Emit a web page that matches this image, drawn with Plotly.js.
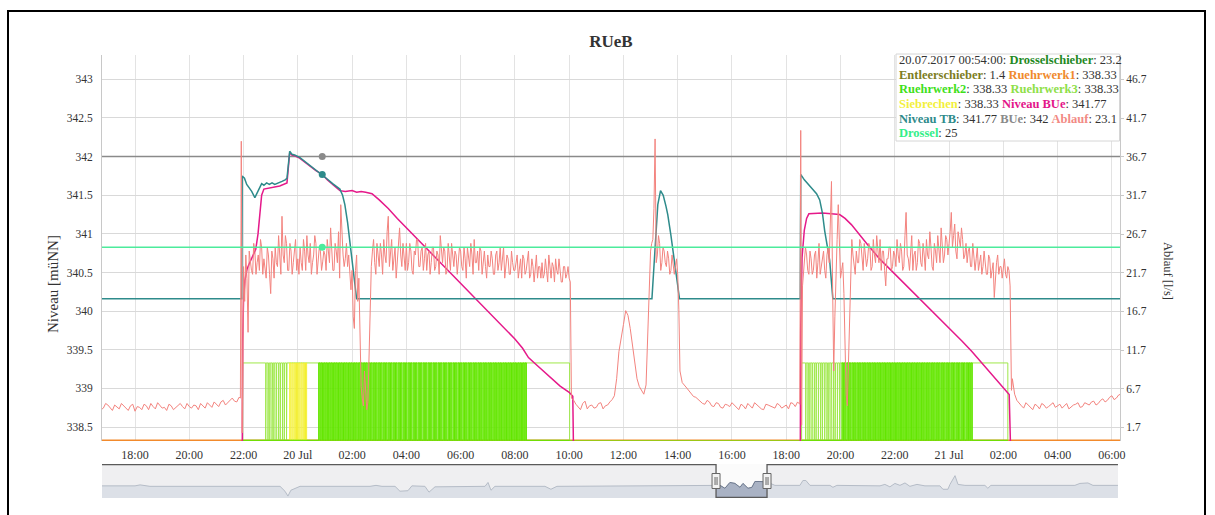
<!DOCTYPE html>
<html><head><meta charset="utf-8">
<script src="https://cdn.plot.ly/plotly-3.0.1.min.js"></script>
<style>
html,body{margin:0;padding:0;background:#fff;overflow:hidden;width:1215px;height:515px}
#chart{position:absolute;left:0;top:0;width:1215px;height:515px}
#frame{position:absolute;left:7px;top:10px;width:1199px;height:540px;border:2px solid #000;box-sizing:border-box;pointer-events:none}
</style></head><body><div id="chart"></div><div id="frame"></div>
<script>
// ---------- DATA ----------
const xRange = ['2017-07-19 16:47', '2017-07-21 06:18'];
const xTickVals = ['2017-07-19 18:00','2017-07-19 20:00','2017-07-19 22:00','2017-07-20 00:00','2017-07-20 02:00','2017-07-20 04:00','2017-07-20 06:00','2017-07-20 08:00','2017-07-20 10:00','2017-07-20 12:00','2017-07-20 14:00','2017-07-20 16:00','2017-07-20 18:00','2017-07-20 20:00','2017-07-20 22:00','2017-07-21 00:00','2017-07-21 02:00','2017-07-21 04:00','2017-07-21 06:00'];
const xTickText = ['18:00','20:00','22:00','20 Jul','02:00','04:00','06:00','08:00','10:00','12:00','14:00','16:00','18:00','20:00','22:00','21 Jul','02:00','04:00','06:00'];
const yLeftTicks = [338.5, 339, 339.5, 340, 340.5, 341, 341.5, 342, 342.5, 343];
const yRightTicks = [1.7, 6.7, 11.7, 16.7, 21.7, 26.7, 31.7, 36.7, 41.7, 46.7];

// Niveau TB [müNN]
const tbTimes = ['2017-07-19 16:40','2017-07-19 21:56','2017-07-19 21:57','2017-07-19 22:02','2017-07-19 22:07','2017-07-19 22:12','2017-07-19 22:18','2017-07-19 22:25','2017-07-19 22:29','2017-07-19 22:32','2017-07-19 22:36','2017-07-19 22:40','2017-07-19 22:45','2017-07-19 22:51','2017-07-19 22:57','2017-07-19 23:03','2017-07-19 23:09','2017-07-19 23:14','2017-07-19 23:20','2017-07-19 23:25','2017-07-19 23:32','2017-07-19 23:36','2017-07-19 23:40','2017-07-19 23:42','2017-07-19 23:47','2017-07-19 23:53','2017-07-20 00:04','2017-07-20 00:15','2017-07-20 00:27','2017-07-20 00:40','2017-07-20 00:54','2017-07-20 01:05','2017-07-20 01:17','2017-07-20 01:25','2017-07-20 01:33','2017-07-20 01:39','2017-07-20 01:44','2017-07-20 01:50','2017-07-20 01:55','2017-07-20 02:00','2017-07-20 02:04','2017-07-20 02:10','2017-07-20 13:03','2017-07-20 13:07','2017-07-20 13:12','2017-07-20 13:16','2017-07-20 13:22','2017-07-20 13:28','2017-07-20 13:34','2017-07-20 13:38','2017-07-20 13:45','2017-07-20 13:53','2017-07-20 13:58','2017-07-20 14:04','2017-07-20 18:31','2017-07-20 18:32','2017-07-20 18:40','2017-07-20 18:50','2017-07-20 18:59','2017-07-20 19:07','2017-07-20 19:14','2017-07-20 19:20','2017-07-20 19:25','2017-07-20 19:30','2017-07-20 19:36','2017-07-20 19:43','2017-07-21 06:20'];
const tbValues = [340.16,340.16,341.75,341.72,341.64,341.60,341.55,341.47,341.52,341.57,341.62,341.65,341.63,341.66,341.64,341.66,341.64,341.65,341.67,341.68,341.70,341.72,341.95,342.07,342.03,342.02,341.99,341.94,341.89,341.83,341.77,341.71,341.65,341.62,341.58,341.50,341.38,341.15,340.92,340.65,340.45,340.16,340.16,340.55,341.05,341.38,341.56,341.50,341.36,341.25,340.98,340.62,340.40,340.16,340.16,341.77,341.70,341.63,341.57,341.52,341.44,341.27,341.04,340.85,340.66,340.16,340.16];

// Niveau BUe [müNN]
const buTimes = ['2017-07-19 16:40','2017-07-19 21:57','2017-07-19 21:58','2017-07-19 22:00','2017-07-19 22:03','2017-07-19 22:08','2017-07-19 22:13','2017-07-19 22:20','2017-07-19 22:27','2017-07-19 22:32','2017-07-19 22:36','2017-07-19 22:40','2017-07-19 22:45','2017-07-19 23:00','2017-07-19 23:20','2017-07-19 23:36','2017-07-19 23:40','2017-07-19 23:42','2017-07-19 23:47','2017-07-19 23:53','2017-07-20 00:04','2017-07-20 00:15','2017-07-20 00:27','2017-07-20 00:40','2017-07-20 00:54','2017-07-20 01:05','2017-07-20 01:17','2017-07-20 01:25','2017-07-20 01:33','2017-07-20 01:45','2017-07-20 02:00','2017-07-20 02:10','2017-07-20 02:20','2017-07-20 02:30','2017-07-20 02:44','2017-07-20 03:00','2017-07-20 03:20','2017-07-20 03:40','2017-07-20 04:00','2017-07-20 04:20','2017-07-20 04:40','2017-07-20 05:00','2017-07-20 05:20','2017-07-20 05:40','2017-07-20 06:00','2017-07-20 06:20','2017-07-20 06:40','2017-07-20 07:00','2017-07-20 07:20','2017-07-20 07:40','2017-07-20 08:00','2017-07-20 08:17','2017-07-20 08:30','2017-07-20 08:45','2017-07-20 09:00','2017-07-20 09:20','2017-07-20 09:40','2017-07-20 10:00','2017-07-20 10:08','2017-07-20 10:10','2017-07-20 18:31','2017-07-20 18:32','2017-07-20 18:35','2017-07-20 18:40','2017-07-20 18:45','2017-07-20 18:50','2017-07-20 19:20','2017-07-20 19:58','2017-07-20 20:10','2017-07-20 20:24','2017-07-20 20:40','2017-07-20 21:00','2017-07-20 21:26','2017-07-20 21:50','2017-07-20 22:20','2017-07-20 22:40','2017-07-20 23:01','2017-07-20 23:20','2017-07-20 23:40','2017-07-21 00:00','2017-07-21 00:29','2017-07-21 00:50','2017-07-21 01:05','2017-07-21 01:22','2017-07-21 01:40','2017-07-21 02:00','2017-07-21 02:13','2017-07-21 02:17','2017-07-21 06:20'];
const buValues = [338.0,338.0,339.6,340.15,340.40,340.55,340.62,340.70,340.80,341.00,341.30,341.50,341.58,341.60,341.62,341.66,341.95,342.05,342.02,342.01,341.98,341.93,341.88,341.82,341.77,341.70,341.64,341.60,341.56,341.55,341.56,341.54,341.55,341.54,341.52,341.44,341.33,341.20,341.08,340.97,340.84,340.72,340.60,340.49,340.36,340.25,340.12,340.01,339.89,339.77,339.64,339.52,339.40,339.32,339.24,339.13,339.03,338.95,338.90,338.0,338.0,339.8,340.7,341.05,341.20,341.26,341.27,341.25,341.20,341.12,341.00,340.86,340.68,340.54,340.37,340.25,340.13,340.02,339.90,339.78,339.61,339.48,339.38,339.27,339.15,339.01,338.92,338.0,338.0];

// constant lines
const lineTimes = ['2017-07-19 16:40', '2017-07-21 06:20'];
const bueLevel = [342, 342];
const drosselLevel = [25, 25];
const rw1Level = [338.33, 338.33];

// Ablauf [l/s] segments (start, step in minutes, values); "B" arrays are the in-between samples
const ablaufEveningStart = '2017-07-19 16:40';
const ablaufEvening = [4.5,4.2,4.6,3.9,4.4,4.8,4.1,4.5,3.8,4.3,4.7,4.0,4.4,4.9,4.2,3.9,4.5,4.3,4.8,4.1,4.4,4.6,4.0,4.5,4.9,4.3,4.7,5.0,4.6,5.3,5.1,5.6];
const ablaufEveningBStart = '2017-07-19 16:45';
const ablaufEveningB = [4.0,4.8,4.3,4.6,4.1,4.5,3.9,4.7,4.4,4.0,4.5,4.8,4.1,4.6,4.3,4.7,4.0,4.6,4.4,4.8,4.2,4.5,4.8,4.2,4.6,5.0,4.4,5.2,4.9,5.5,5.0];
const ablaufNightStart = '2017-07-19 22:00';
const ablaufNight = [
22.5,24.0,14.0,23.0,21.5,24.5,23.0,22.0,25.0,23.5,21.0,24.0,
19.0,23.5,25.0,22.5,24.0,29.0,23.0,25.5,22.0,24.5,23.0,26.0,
23.5,25.0,22.0,24.5,26.5,23.0,21.5,24.0,25.5,23.0,24.5,23.1,
24.0,26.0,23.0,25.0,22.0,24.5,27.0,30.5,24.0,23.5,22.5,21.0,
22.0,14.5,24.0,21.0,7.0,4.5,6.0,5.0,19.0,24.5,23.0,25.5,
22.5,24.0,26.0,23.0,29.0,24.5,22.0,25.0,23.5,27.5,22.5,24.0,
25.5,23.0,24.5,21.5,24.0,26.0,22.5,25.0,23.5,22.0,24.5,23.0,
25.0,22.5,24.0,26.5,23.0,24.5,22.0,23.5,25.5,22.5,24.0,23.0,
24.5,22.0,23.5,25.0,22.5,24.0,26.0,23.0,22.0,24.5,23.0,22.5,
24.0,22.5,23.5,21.5,24.5,23.0,22.0,25.0,22.5,23.5,21.5,23.0,
22.0,24.0,22.5,21.0,23.5,22.0,24.5,21.5,22.5,23.0,21.0,22.5,
23.0,21.5,22.0,24.0,21.0,22.5,23.5,21.5,22.0,20.5,22.5,21.5,
21.0,5.5];
const ablaufNightBStart = '2017-07-19 22:02:30';
const ablaufNightB = [
18.0,21.0,24.5,22.0,25.5,21.5,24.0,26.0,21.5,22.5,25.0,21.5,
24.5,21.0,23.0,26.5,21.5,24.0,26.5,22.0,25.5,21.5,24.5,22.0,
21.5,23.0,26.0,22.0,24.0,25.5,23.0,26.5,21.5,25.0,22.0,24.5,
22.0,24.0,27.5,22.0,25.5,23.0,21.0,26.0,22.5,25.5,24.0,19.5,
16.0,22.0,18.0,12.0,5.5,9.0,4.0,12.0,22.5,26.0,21.5,23.5,
25.5,21.5,24.0,27.0,22.5,26.0,23.5,21.0,26.0,24.0,25.5,22.0,
22.0,25.5,22.0,24.5,26.0,22.5,24.5,22.0,25.5,24.0,21.5,25.0,
22.0,24.5,21.5,24.0,25.0,21.5,25.5,22.0,23.5,24.5,21.5,25.0,
22.5,25.0,21.0,23.5,25.5,21.5,23.0,24.5,25.0,21.5,24.5,21.0,
22.5,24.5,21.5,24.0,22.0,25.0,23.5,21.0,24.0,21.5,24.5,22.0,
23.5,21.0,23.5,24.0,21.5,23.5,21.0,23.5,20.5,24.0,22.5,21.0,
21.0,23.5,20.5,22.5,23.0,20.5,22.0,23.5,20.5,22.5,21.0,22.5,
20.5];
const ablaufMiddayStart = '2017-07-20 10:10';
const ablaufMidday = [5.2,4.4,4.8,4.1,4.6,4.3,4.9,4.5,5.0,5.8,11.5,15.0,16.2,12.5,8.0,6.5,7.2];
const ablaufMiddayBStart = '2017-07-20 10:15';
const ablaufMiddayB = [4.7,4.0,5.1,4.5,4.2,4.8,4.1,4.6,5.3,8.0,13.5,16.8,14.5,10.5,7.0,6.0];
const ablaufPeakStart = '2017-07-20 12:55';
const ablaufPeak = [15.0,24.5,26.0,39.0,24.0,25.5,23.0,24.5,22.5,23.5,22.0,23.0,22.5,21.5,9.0,7.5];
const ablaufPeakBStart = '2017-07-20 12:57:30';
const ablaufPeakB = [20.0,25.5,30.0,23.0,26.5,22.0,25.0,23.0,24.5,21.5,24.0,21.5,23.5,17.0,8.0];
const ablaufAfternoonStart = '2017-07-20 14:20';
const ablaufAfternoon = [6.8,6.0,5.6,5.1,4.7,5.0,4.4,4.8,4.2,4.6,4.9,4.3,4.7,4.1,4.5,4.9,4.4,4.0,4.6,4.3,4.8,4.2,4.6,4.9,4.4,4.7];
const ablaufAfternoonBStart = '2017-07-20 14:25';
const ablaufAfternoonB = [6.4,5.7,5.3,4.8,5.2,4.5,4.9,4.3,4.7,4.4,4.6,4.0,4.5,4.8,4.2,4.6,4.1,4.7,4.5,4.2,4.6,4.4,4.1,4.8,5.0];
const ablaufEvening2Start = '2017-07-20 18:40';
const ablaufEvening2 = [
22.5,24.0,21.5,23.5,
22.0,24.5,23.0,21.5,23.5,22.0,24.0,23.0,33.5,9.0,22.5,30.5,
21.0,23.0,12.0,4.5,18.0,26.0,22.5,24.5,23.0,25.5,22.0,24.0,
23.5,25.0,22.5,24.0,26.5,23.0,22.0,24.5,20.0,23.5,25.0,22.5,
24.0,26.0,23.0,24.5,22.5,29.5,23.5,25.0,22.0,24.5,23.0,25.5,
22.5,24.0,26.0,23.5,25.0,22.0,24.5,26.5,23.0,25.5,24.0,26.0,
25.5,29.5,26.5,24.5,27.0,25.0,26.0,24.0,23.0,25.0,22.5,24.0,
23.5,22.0,24.0,22.5,23.0,21.5,23.5,22.0,18.5,23.0,21.5,22.5,
22.0,21.5,22.5,20.0];
const ablaufEvening2BStart = '2017-07-20 18:42:30';
const ablaufEvening2B = [
25.0,22.0,24.5,21.5,
24.0,21.0,25.5,22.5,24.5,21.0,25.0,27.0,20.0,16.0,26.0,23.5,
22.0,19.0,6.0,10.0,23.0,24.0,21.5,23.0,26.0,23.5,25.5,22.5,
25.5,22.0,26.0,23.0,24.0,26.0,24.5,22.0,23.5,25.0,22.0,24.5,
22.5,24.0,25.5,22.0,26.5,24.0,22.0,26.5,24.0,22.0,26.0,23.0,
25.5,22.0,24.0,27.0,22.5,25.5,23.0,24.5,27.5,23.0,26.5,24.0,
27.0,25.0,28.0,23.5,25.5,27.5,23.5,25.5,24.5,22.5,25.5,22.0,
25.0,23.5,21.5,24.5,21.5,24.0,21.0,23.0,21.0,24.0,22.5,21.0,
23.5,21.0,22.0];
const ablaufNight2Start = '2017-07-21 02:20';
const ablaufNight2 = [8.0,5.2,4.5,4.9,4.3,4.7,4.1,4.6,4.4,4.9,4.5,4.2,4.8,4.4,4.7,4.3,4.9,4.6,5.1,4.8,5.4,5.2,5.8,5.5,6.0];
const ablaufNight2BStart = '2017-07-21 02:25';
const ablaufNight2B = [6.0,4.8,4.2,4.6,4.0,4.5,4.8,4.2,4.6,4.3,4.7,4.5,4.1,4.6,4.9,4.4,4.7,5.0,4.6,5.2,5.0,5.6,5.3,5.9];
const ablaufSpikeTimes = ['2017-07-19 21:53','2017-07-19 21:55','2017-07-19 21:57','2017-07-19 21:59','2017-07-20 18:32','2017-07-20 18:34','2017-07-20 18:36','2017-07-21 02:18'];
const ablaufSpikeValues = [5.5,38.7,1.0,14.0,40.1,2.0,20.0,6.5];

// Stirrers / screen: switch times in minutes since 2017-07-19 00:00
const switchBase = '2017-07-19 00:00';
const rwOnLevel = 339.33, rwOffLevel = 338.33;
const rw3OnStart = [1318, 2554];
const rw3OnEnd = [2041, 3010];
const rw3OffBlips = [1369,1374,1378,1383,1387,1392,1397,1401,1406,1410,1415,2563,2568,2572,2577,2582,2586,2591,2596,2600,2605,2610,2614,2619,2624,2628,2633,2638];
const rw3BlipMinutes = 1;
const siebPulses = [1422,1427,1432,1437,1442,1447,1452,1457];
const siebOnMinutes = 2.5;
const rw2Pulses = [1486,1491,1497,1502,1508,1513,1519,1524,1530,1535,1541,1546,1552,1557,1563,1568,1574,1579,1585,1590,1596,1601,1607,1612,1618,1623,1629,1634,1640,1645,1651,1656,1662,1667,1673,1678,1684,1689,1695,1700,1706,1711,1717,1722,1728,1733,1739,1744,1750,1755,1761,1766,1772,1777,1783,1788,1794,1799,1805,1810,1816,1821,1827,1832,1838,1843,1849,1854,1860,1865,1871,1876,1882,1887,1893,1898,1904,1909,1915,1920,1926,1931,1937,1942,
2643,2648,2654,2659,2665,2670,2676,2681,2687,2692,2698,2703,2709,2714,2720,2725,2731,2736,2742,2747,2753,2758,2764,2769,2775,2780,2786,2791,2797,2802,2808,2813,2819,2824,2830,2835,2841,2846,2852,2857,2863,2868,2874,2879,2885,2890,2896,2901,2907,2912,2918,2923,2928];
const rw2OnMinutes = 3.5;

// hover point
const hoverTime = ['2017-07-20 00:54'];
const hoverBUe = [342], hoverTB = [341.77], hoverDrossel = [25];

// navigator (hours since navStart, level)
const navStart = '2017-06-30 21:00', navEnd = '2017-08-01 00:30';
const navHours = [0,24.3,28,31.6,35.3,131,134.6,136.8,139,145.7,197.2,201.6,206,215.6,219.2,225.1,228,237.6,240.6,245,281.8,284,286.2,289.1,325.9,330.3,334.7,395.8,440,451.78,454.7,458.3,462,465.7,469.4,471.6,475.3,478.2,480.4,484.1,489.3,495.1,513.5,515.7,517.9,520.9,535.6,537.8,540.7,572.4,576,579.7,583.4,587.1,590.8,594.4,599.6,605.5,616.5,618.7,622.4,623.9,627.6,629.8,634.9,649.6,651.8,654,715.8,719.5,725.4,729.1,747.5];
const navLevel = [12.5,12.5,13.5,12.5,12,12,7,2,8,12,12,13,12,12,7,7.5,12.5,12,6,11.5,12,16,8,12,12,9,12,12.5,12.5,13,13,10,16,15,11,15,10,11,17,17,16.5,13,13,18,18,13,13,11,13,12.5,14,11.5,15,13,15.5,12,14,12.5,12.5,9,9,14,23,14,13,13,10,13,13,15,15.5,13,13];

// ---------- helpers ----------
function toMs(s){ let t = s.replace(' ','T'); if (t.length === 16) t += ':00'; return Date.parse(t + 'Z'); }
function fmt(ms){ return new Date(ms).toISOString().slice(0,19).replace('T',' '); }
function addMin(s, m){ return fmt(toMs(s) + m*60000); }
function seg(start, step, vals){ return vals.map((v,i)=>({t: addMin(start, i*step), v: v})); }

let ab = [].concat(
  seg(ablaufEveningStart,10,ablaufEvening), seg(ablaufEveningBStart,10,ablaufEveningB),
  seg(ablaufNightStart,5,ablaufNight), seg(ablaufNightBStart,5,ablaufNightB),
  seg(ablaufMiddayStart,10,ablaufMidday), seg(ablaufMiddayBStart,10,ablaufMiddayB),
  seg(ablaufPeakStart,5,ablaufPeak), seg(ablaufPeakBStart,5,ablaufPeakB),
  seg(ablaufAfternoonStart,10,ablaufAfternoon), seg(ablaufAfternoonBStart,10,ablaufAfternoonB),
  seg(ablaufEvening2Start,5,ablaufEvening2), seg(ablaufEvening2BStart,5,ablaufEvening2B),
  seg(ablaufNight2Start,10,ablaufNight2), seg(ablaufNight2BStart,10,ablaufNight2B));
ablaufSpikeTimes.forEach((t,i)=>ab.push({t: addMin(t,0), v: ablaufSpikeValues[i]}));
ab.sort((a,b)=> a.t < b.t ? -1 : (a.t > b.t ? 1 : 0));

function T(m){ return addMin(switchBase, m); }
// Ruehrwerk3: on during events, short off-blips
const rw3x = [], rw3y = [];
for (let k = 0; k < rw3OnStart.length; k++) {
  const s = rw3OnStart[k], e = rw3OnEnd[k];
  rw3x.push(T(s), T(s)); rw3y.push(rwOffLevel, rwOnLevel);
  rw3OffBlips.filter(b => b > s && b < e).forEach(b => {
    rw3x.push(T(b), T(b), T(b+rw3BlipMinutes), T(b+rw3BlipMinutes));
    rw3y.push(rwOnLevel, rwOffLevel, rwOffLevel, rwOnLevel);
  });
  rw3x.push(T(e), T(e), null); rw3y.push(rwOnLevel, rwOffLevel, null);
}
function pulses(windowsS, windowsE, list, dur){
  const x = [], y = [];
  for (let k = 0; k < windowsS.length; k++) {
    const s = windowsS[k], e = windowsE[k];
    x.push(T(s)); y.push(rwOffLevel);
    list.filter(p => p >= s && p < e).forEach(p => {
      x.push(T(p), T(p), T(p+dur), T(p+dur));
      y.push(rwOffLevel, rwOnLevel, rwOnLevel, rwOffLevel);
    });
    x.push(T(e), null); y.push(rwOffLevel, null);
  }
  return {x, y};
}
const rw2 = pulses(rw3OnStart, rw3OnEnd, rw2Pulses, rw2OnMinutes);
const sieb = pulses([siebPulses[0]], [siebPulses[siebPulses.length-1] + siebOnMinutes], siebPulses, siebOnMinutes);

const navX = navHours.map(h => addMin(navStart, h*60));
const winS = (toMs(xRange[0]) - toMs(navStart)) / 3600000;
const winE = (toMs(xRange[1]) - toMs(navStart)) / 3600000;
const inIdx = navHours.map((h,i)=>i).filter(i => navHours[i] >= winS - 0.01 && navHours[i] <= winE + 0.01);

// ---------- traces ----------
const C = {
  rw1:'#f28a2c', rw2:'#62e600', rw3:'#9fe84a', sieb:'#f3ef30', ablauf:'#f3837e',
  drossel:'#4deb9c', bue:'#8a8a8a', nbue:'#e5198a', tb:'#2e8b8b'
};
const traces = [
  {x: lineTimes, y: rw1Level, type:'scatter', mode:'lines', line:{color:C.rw1, width:1.5}, xaxis:'x', yaxis:'y'},
  {x: rw3x, y: rw3y, type:'scatter', mode:'lines', line:{color:C.rw3, width:1}, xaxis:'x', yaxis:'y', connectgaps:false},
  {x: sieb.x, y: sieb.y, type:'scatter', mode:'lines', fill:'tozeroy', fillcolor:'rgba(255,255,140,0.55)', line:{color:C.sieb, width:1}, xaxis:'x', yaxis:'y', connectgaps:false},
  {x: rw2.x, y: rw2.y, type:'scatter', mode:'lines', fill:'tozeroy', fillcolor:'rgba(110,232,10,0.85)', line:{color:C.rw2, width:1}, xaxis:'x', yaxis:'y', connectgaps:false},
  {x: lineTimes, y: bueLevel, type:'scatter', mode:'lines', line:{color:C.bue, width:1.5}, xaxis:'x', yaxis:'y'},
  {x: buTimes, y: buValues, type:'scatter', mode:'lines', line:{color:C.nbue, width:1.5}, xaxis:'x', yaxis:'y'},
  {x: tbTimes, y: tbValues, type:'scatter', mode:'lines', line:{color:C.tb, width:1.5}, xaxis:'x', yaxis:'y'},
  {x: hoverTime, y: hoverBUe, type:'scatter', mode:'markers', marker:{color:C.bue, size:7}, xaxis:'x', yaxis:'y'},
  {x: hoverTime, y: hoverTB, type:'scatter', mode:'markers', marker:{color:C.tb, size:7}, xaxis:'x', yaxis:'y'},
  {x: ab.map(p=>p.t), y: ab.map(p=>p.v), type:'scatter', mode:'lines', line:{color:C.ablauf, width:1}, xaxis:'x', yaxis:'y2'},
  {x: lineTimes, y: drosselLevel, type:'scatter', mode:'lines', line:{color:C.drossel, width:1.3}, xaxis:'x', yaxis:'y2'},
  {x: hoverTime, y: hoverDrossel, type:'scatter', mode:'markers', marker:{color:C.drossel, size:7}, xaxis:'x', yaxis:'y2'},
  // navigator
  {x: navX, y: navLevel, type:'scatter', mode:'lines', fill:'tozeroy', fillcolor:'#dce0e7', line:{color:'#b5bcc7', width:1}, xaxis:'x2', yaxis:'y3'},
  {x: inIdx.map(i=>navX[i]), y: inIdx.map(i=>navLevel[i]), type:'scatter', mode:'lines', fill:'tozeroy', fillcolor:'#a9b2c4', line:{color:'#6e7a8f', width:1}, xaxis:'x2', yaxis:'y3'},
  {x: [navStart, xRange[0], xRange[0], xRange[1], xRange[1], navEnd], y: [34.5, 34.5, 0.5, 0.5, 34.5, 34.5], type:'scatter', mode:'lines', line:{color:'#5a5a5a', width:1.3}, xaxis:'x2', yaxis:'y3'}
];

// ---------- layout ----------
const serif = 'Liberation Serif, Times New Roman, serif';
const navTop = 34/443;
function tipY(py){ return (498 - py) / 443; }
const tipX = (898 - 102) / 1018;
const tipLines = [
  ['20.07.2017 00:54:00: <b><span style="color:#1f8a1f">Drosselschieber</span></b>: 23.2', 60],
  ['<b><span style="color:#7d7d22">Entleerschieber</span></b>: 1.4 <b><span style="color:#f08a2c">Ruehrwerk1</span></b>: 338.33', 75],
  ['<b><span style="color:#3ee01a">Ruehrwerk2</span></b>: 338.33 <b><span style="color:#8ee048">Ruehrwerk3</span></b>: 338.33', 89.5],
  ['<b><span style="color:#f3f03c">Siebrechen</span></b>: 338.33 <b><span style="color:#e3168a">Niveau BUe</span></b>: 341.77', 104],
  ['<b><span style="color:#2e8b8b">Niveau TB</span></b>: 341.77 <b><span style="color:#8a8a8a">BUe</span></b>: 342 <b><span style="color:#f28a84">Ablauf</span></b>: 23.1', 118.5],
  ['<b><span style="color:#33ee88">Drossel</span></b>: 25', 133]
];
const annotations = tipLines.map(l => ({
  text: l[0], xref:'paper', yref:'paper', x: tipX, y: tipY(l[1]), xanchor:'left', yanchor:'middle',
  showarrow:false, font:{family:serif, size:12.5, color:'#333'}, borderpad:0
}));
annotations.push({text:'Niveau [müNN]', xref:'paper', yref:'paper', x:(53-102)/1018, y:tipY(284), textangle:-90,
  showarrow:false, font:{family:serif, size:15, color:'#333'}, xanchor:'center', yanchor:'middle'});
annotations.push({text:'Ablauf [l/s]', xref:'paper', yref:'paper', x:(1168-102)/1018, y:tipY(271), textangle:90,
  showarrow:false, font:{family:serif, size:12.5, color:'#333'}, xanchor:'center', yanchor:'middle'});

function handle(anchor){
  return [
    {type:'rect', xref:'x2', yref:'y3', xsizemode:'pixel', xanchor:anchor, x0:-4, x1:4, ysizemode:'pixel', yanchor:17.5, y0:-7.5, y1:7.5, fillcolor:'#f2f2f2', line:{color:'#666', width:1}, layer:'above'},
    {type:'line', xref:'x2', yref:'y3', xsizemode:'pixel', xanchor:anchor, x0:-1, x1:-1, ysizemode:'pixel', yanchor:17.5, y0:-4, y1:4, line:{color:'#666', width:1}, layer:'above'},
    {type:'line', xref:'x2', yref:'y3', xsizemode:'pixel', xanchor:anchor, x0:1, x1:1, ysizemode:'pixel', yanchor:17.5, y0:-4, y1:4, line:{color:'#666', width:1}, layer:'above'}
  ];
}
const shapes = [
  {type:'rect', xref:'paper', yref:'paper', x0:0, x1:0.998, y0:0, y1:navTop, fillcolor:'#efeff1', line:{width:0}, layer:'below'},
  {type:'rect', xref:'x2', yref:'paper', x0:xRange[0], x1:xRange[1], y0:0, y1:navTop, fillcolor:'#fbfbfb', line:{width:0}, layer:'below'},
  {type:'rect', xref:'paper', yref:'paper', x0:(896-102)/1018, x1:0.9995, y0:tipY(141), y1:tipY(54), fillcolor:'#ffffff', line:{color:'#d6d6d6', width:1}, layer:'above'}
].concat(handle(xRange[0]), handle(xRange[1]));

const layout = {
  width:1215, height:515, margin:{l:102, r:95, t:55, b:17, pad:0},
  paper_bgcolor:'#ffffff', plot_bgcolor:'#ffffff', showlegend:false, hovermode:false, dragmode:false,
  title:{text:'<b>RUeB</b>', font:{family:serif, size:17, color:'#333'}, x:0.5, xref:'paper', y:1-41/515, yref:'container', yanchor:'middle'},
  xaxis:{domain:[0,1], anchor:'y', type:'date', range:xRange, tickmode:'array', tickvals:xTickVals, ticktext:xTickText,
    showgrid:true, gridcolor:'#e3e3e3', gridwidth:1, zeroline:false, showline:false,
    ticks:'outside', ticklen:3, tickcolor:'rgba(0,0,0,0)', tickfont:{family:serif, size:12, color:'#333'}, fixedrange:true},
  yaxis:{domain:[57/443,1], anchor:'x', range:[338.32, 343.315], tickmode:'array', tickvals:yLeftTicks,
    showgrid:true, gridcolor:'#d9d9d9', gridwidth:1, zeroline:false, showline:true, linecolor:'#c8c8c8', linewidth:1,
    ticks:'outside', ticklen:6, tickcolor:'rgba(0,0,0,0)', tickfont:{family:serif, size:11.5, color:'#333'}, fixedrange:true},
  yaxis2:{overlaying:'y', side:'right', anchor:'x', range:[-0.05, 49.85], tickmode:'array', tickvals:yRightTicks,
    showgrid:false, zeroline:false, showline:true, linecolor:'#c8c8c8', linewidth:1,
    ticks:'outside', ticklen:3, tickcolor:'#c8c8c8', tickfont:{family:serif, size:11.5, color:'#333'}, fixedrange:true},
  xaxis2:{domain:[0,0.998], anchor:'y3', type:'date', range:[navStart, navEnd], showticklabels:false, showgrid:false, zeroline:false, showline:false, fixedrange:true},
  yaxis3:{domain:[0,navTop], anchor:'x2', range:[0,35], showticklabels:false, showgrid:false, zeroline:false, showline:false, fixedrange:true},
  annotations: annotations,
  shapes: shapes
};

Plotly.newPlot('chart', traces, layout, {staticPlot:true, displayModeBar:false});
</script></body></html>
